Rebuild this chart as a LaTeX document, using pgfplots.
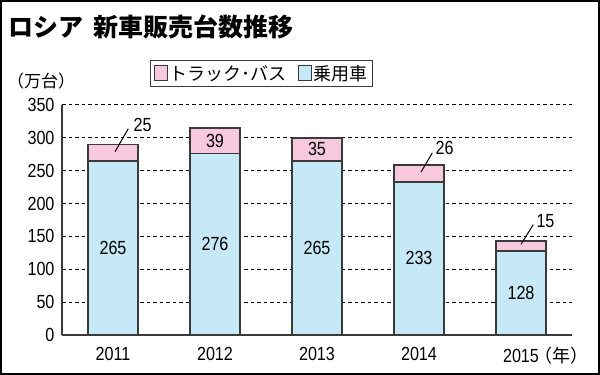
\documentclass[border=0pt]{standalone}
\usepackage{pgfplots}
\pgfplotsset{compat=1.18}
\usepackage{pgfplotstable}
\usepackage{fontspec}
\setmainfont{Liberation Sans}
\newfontfamily\jpfont{Noto Sans CJK JP}
\newfontfamily\numfont[FakeStretch=0.85]{Liberation Sans}
\definecolor{carblue}{HTML}{C6E9F8}
\definecolor{truckpink}{HTML}{F8C8DC}
\definecolor{edgegray}{HTML}{3A3A3A}
\pgfplotstableread{
x car truck
0 265 25
1 276 39
2 265 35
3 233 26
4 128 15
}\datatable
\begin{document}
\begin{tikzpicture}
\useasboundingbox (0,0) rectangle (600bp,375bp);
\draw[line width=2bp] (1bp,1bp) rectangle (599bp,374bp);
\node[anchor=west,inner sep=0pt,font=\jpfont\bfseries\fontsize{25bp}{27bp}\selectfont] at (8bp,348bp) {ロシア\hspace{10bp}新車販売台数推移};
\node[inner sep=0pt,font=\jpfont\fontsize{17bp}{19bp}\selectfont] at (41bp,294bp) {（万台）};
\begin{axis}[
  at={(62bp,40bp)}, anchor=south west,
  scale only axis, width=510bp, height=230bp,
  xmin=-0.5, xmax=4.5, ymin=0, ymax=350,
  ybar stacked, bar width=50bp, reverse stacked plots=false,
  axis x line*=bottom, axis y line*=left,
  axis line style={draw=edgegray, line width=1.5bp},
  major tick length=0pt,
  xtick={0,1,2,3,4},
  xticklabels={2011,2012,2013,2014,{2015\rlap{\hspace{-4bp}\jpfont\fontsize{18bp}{20bp}\selectfont（年）}}},
  ytick={0,50,...,350},
  ymajorgrids,
  major grid style={black, dash pattern=on 3.5bp off 3bp, line width=1bp},
  /pgf/number format/assume math mode=true,
  ticklabel style={font=\numfont\fontsize{19bp}{21bp}\selectfont},
  yticklabel style={xshift=-4bp},
  xticklabel style={yshift=-9bp},
  legend style={at={(0.1725,1.137)}, anchor=west, draw=edgegray, line width=1.2bp,
    font=\jpfont\fontsize{18bp}{20bp}\selectfont, legend columns=2,
    /tikz/every even column/.append style={column sep=9bp},
    inner xsep=3bp, inner ysep=3bp},
  legend image code/.code={\draw[#1, line width=1bp] (0bp,-7.5bp) rectangle (13bp,7.5bp);},
  reverse legend,
  clip=false,
]
\addplot[fill=carblue, draw=edgegray, line width=1.5bp] table[x=x,y=car]{\datatable};
\addlegendentry{乗用車}
\addplot[fill=truckpink, draw=edgegray, line width=1.5bp] table[x=x,y=truck]{\datatable};
\addlegendentry{トラック･バス}
\node[font=\numfont\fontsize{19bp}{21bp}\selectfont] at (axis cs:0,132.5) {265};
\node[font=\numfont\fontsize{19bp}{21bp}\selectfont] at (axis cs:1,138) {276};
\node[font=\numfont\fontsize{19bp}{21bp}\selectfont] at (axis cs:2,132.5) {265};
\node[font=\numfont\fontsize{19bp}{21bp}\selectfont] at (axis cs:3,116.5) {233};
\node[font=\numfont\fontsize{19bp}{21bp}\selectfont] at (axis cs:4,64) {128};
\node[font=\numfont\fontsize{19bp}{21bp}\selectfont] at (axis cs:1,295.5) {39};
\node[font=\numfont\fontsize{19bp}{21bp}\selectfont] at (axis cs:2,282.5) {35};
\draw[black, line width=1bp] (axis cs:0.02,279) -- (axis cs:0.15,314);
\node[font=\numfont\fontsize{19bp}{21bp}\selectfont] at (axis cs:0.29,320) {25};
\draw[black, line width=1bp] (axis cs:3.02,248) -- (axis cs:3.13,277);
\node[font=\numfont\fontsize{19bp}{21bp}\selectfont] at (axis cs:3.25,284) {26};
\draw[black, line width=1bp] (axis cs:4.0,138) -- (axis cs:4.12,168);
\node[font=\numfont\fontsize{19bp}{21bp}\selectfont] at (axis cs:4.24,173) {15};
\end{axis}
\end{tikzpicture}
\end{document}
